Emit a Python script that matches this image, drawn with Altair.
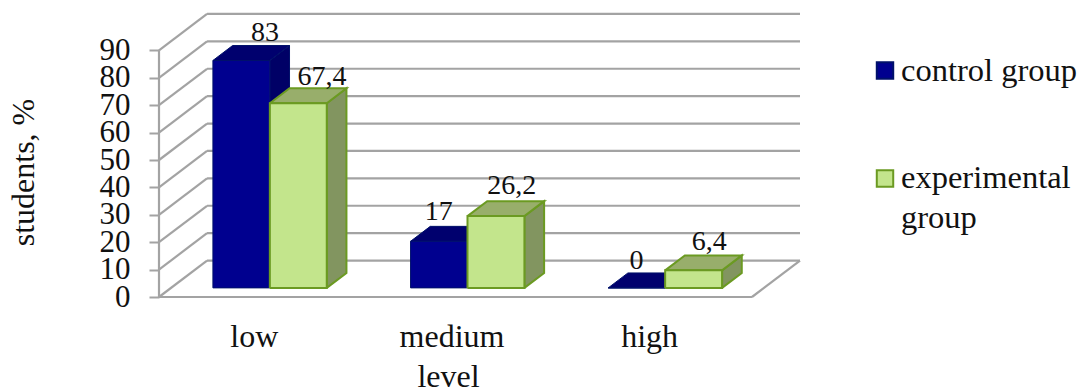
import altair as alt
import pandas as pd

# Survey results, percent of students per level
levels = ["low", "medium", "high"]
control_group = [83, 17, 0]
experimental_group = [67.4, 26.2, 6.4]
control_labels = ["83", "17", "0"]
experimental_labels = ["67,4", "26,2", "6,4"]
y_ticks = [0, 10, 20, 30, 40, 50, 60, 70, 80, 90]

FONT = "Liberation Serif"
VALUE_SIZE = 28
AXIS_SIZE = 32
TICK_SIZE = 31
TEXT_COLOR = "#111111"
GRID = "#a3a3a3"

# Oblique projection: depth 0 is the front of the floor, depth 1 the back wall
DEPTH_X = 0.243   # horizontal shift of the full depth, in category units
DEPTH_Y = 13.3    # vertical shift of the full depth, in percent
X_MIN, X_MAX = -0.5, 2.5
BAR_WIDTH = 0.288
BAR_NEAR, BAR_FAR = 0.25, 0.66


def project(x, value, depth):
    return x + depth * DEPTH_X, value + depth * DEPTH_Y


def polygon_rows(bar, corners):
    rows = []
    for i, (x, value, depth) in enumerate(corners + corners[:1]):
        px, py = project(x, value, depth)
        rows.append({"bar": bar, "i": i, "px": px, "py": py})
    return rows


def faces(cat, value, side):
    """Front, top and side polygons of one bar; side is -1 or 0 for the cluster slot."""
    x0 = cat + side * BAR_WIDTH
    x1 = x0 + BAR_WIDTH
    front = [(x0, 0, BAR_NEAR), (x1, 0, BAR_NEAR), (x1, value, BAR_NEAR), (x0, value, BAR_NEAR)]
    top = [(x0, value, BAR_NEAR), (x1, value, BAR_NEAR), (x1, value, BAR_FAR), (x0, value, BAR_FAR)]
    right = [(x1, 0, BAR_NEAR), (x1, 0, BAR_FAR), (x1, value, BAR_FAR), (x1, value, BAR_NEAR)]
    return front, top, right


x_scale = alt.Scale(domain=[X_MIN, X_MAX + DEPTH_X], range=[0, 641], nice=False, zero=False)
y_scale = alt.Scale(domain=[0, 283 / 2.74], range=[283, 0], nice=False, zero=False)

# Every layer shares one axis definition so the merged axes keep all their settings
x_axis = alt.Axis(
    values=[0, 1, 2],
    labelExpr="['" + "', '".join(levels) + "'][datum.value]",
    domain=False,
    ticks=False,
    grid=False,
    labelFont=FONT,
    labelFontSize=AXIS_SIZE,
    labelColor=TEXT_COLOR,
    labelBaseline="alphabetic",
    labelPadding=49,
    labelOffset=-4,
    labelOverlap=False,
    titleFont=FONT,
    titleFontSize=AXIS_SIZE,
    titleFontWeight="normal",
    titleColor=TEXT_COLOR,
    titleX=289,
    titleY=89,
    titleBaseline="alphabetic",
)
y_axis = alt.Axis(
    values=y_ticks,
    domain=False,
    grid=False,
    tickColor=GRID,
    tickWidth=2,
    tickSize=10,
    labelFont=FONT,
    labelFontSize=TICK_SIZE,
    labelColor=TEXT_COLOR,
    labelPadding=19,
    labelOverlap=False,
    titleFont=FONT,
    titleFontSize=AXIS_SIZE,
    titleFontWeight="normal",
    titleColor=TEXT_COLOR,
    titleX=-126,
    titleY=158,
    titleAngle=270,
    titleBaseline="alphabetic",
)
x_enc = lambda field: alt.X(field, type="quantitative", scale=x_scale, title="level", axis=x_axis)
y_enc = lambda field: alt.Y(field, type="quantitative", scale=y_scale, title="students, %", axis=y_axis)


def segment(x0, v0, d0, x1, v1, d1):
    a = project(x0, v0, d0)
    b = project(x1, v1, d1)
    return {"px": a[0], "py": a[1], "px2": b[0], "py2": b[1]}


# Walls and floor outline
segments = []
for t in y_ticks:
    segments.append(segment(X_MIN, t, 1, X_MAX, t, 1))
    segments.append(segment(X_MIN, t, 0, X_MIN, t, 1))
segments.append(segment(X_MIN, 0, 0, X_MAX, 0, 0))
segments.append(segment(X_MAX, 0, 0, X_MAX, 0, 1))
segments.append(segment(X_MIN, 0, 0, X_MIN, y_ticks[-1], 0))

grid = alt.Chart(pd.DataFrame(segments)).mark_rule(color=GRID, strokeWidth=2.2).encode(
    x=x_enc("px"), x2="px2", y=y_enc("py"), y2="py2"
)

layers = [grid]

# Bars: the control series is painted first so the experimental bars sit over it
series = [
    (control_group, -1, "#00008f", "#00006e", "#000066", "#00116a", 1),
    (experimental_group, 0, "#c3e58c", "#98ae6b", "#829560", "#6b9a22", 2),
]
for values, side, front_col, top_col, side_col, stroke, width in series:
    polys = {"side": [], "top": [], "front": []}
    for cat, value in enumerate(values):
        front, top, right = faces(cat, value, side)
        polys["front"] += polygon_rows(cat, front)
        polys["top"] += polygon_rows(cat, top)
        polys["side"] += polygon_rows(cat, right)
    for name, fill in (("side", side_col), ("top", top_col), ("front", front_col)):
        layers.append(
            alt.Chart(pd.DataFrame(polys[name]))
            .mark_line(fill=fill, stroke=stroke, strokeWidth=width, strokeJoin="miter")
            .encode(x=x_enc("px"), y=y_enc("py"), detail="bar:N", order="i:Q")
        )

# Value labels sit just above the back edge of each bar's top
label_rows = []
for cat in range(len(levels)):
    for values, texts, side, nudge_x, nudge_y in (
        (control_group, control_labels, -1, [4, -20, -20][cat], [5, 6, 4][cat]),
        (experimental_group, experimental_labels, 0, [4, -4, -4][cat], [3, 7, 5][cat]),
    ):
        x = cat + side * BAR_WIDTH + BAR_WIDTH / 2
        px, py = project(x, values[cat], BAR_FAR)
        label_rows.append({"px": px, "py": py, "text": texts[cat], "dx": nudge_x, "dy": -nudge_y})
for row in label_rows:
    layers.append(
        alt.Chart(pd.DataFrame([row]))
        .mark_text(
            font=FONT, fontSize=VALUE_SIZE, color=TEXT_COLOR, baseline="alphabetic",
            align="center", dx=row["dx"], dy=row["dy"],
        )
        .encode(x=x_enc("px"), y=y_enc("py"), text="text:N")
    )

# Legend drawn beside the plot, with the long entry wrapped onto two lines
LEFT, TOP = 159, 14
legend_marks = [(885, 70.5, "#00008f", "#00116a"), (885, 178.5, "#c3e58c", "#6b9a22")]
legend_lines = [(901, 71, "control group"), (901, 178, "experimental"), (901, 218, "group")]
for mx, my, fill, stroke in legend_marks:
    layers.append(
        alt.Chart(pd.DataFrame({"a": [0]}))
        .mark_square(size=270, fill=fill, stroke=stroke, strokeWidth=2, opacity=1)
        .encode(x=alt.value(mx - LEFT), y=alt.value(my - TOP))
    )
for tx, ty, line in legend_lines:
    layers.append(
        alt.Chart(pd.DataFrame({"t": [line]}))
        .mark_text(font=FONT, fontSize=32.5, color=TEXT_COLOR, align="left", baseline="middle")
        .encode(x=alt.value(tx - LEFT), y=alt.value(ty - TOP), text="t:N")
    )

chart = (
    alt.layer(*layers)
    .properties(
        width=641,
        height=283,
        background="white",
        autosize=alt.AutoSizeParams(type="none"),
        padding={"left": LEFT, "top": TOP, "right": 281, "bottom": 93},
    )
    .configure_view(stroke=None)
)

chart.save("out.html", embed_options={"renderer": "svg", "actions": False})
